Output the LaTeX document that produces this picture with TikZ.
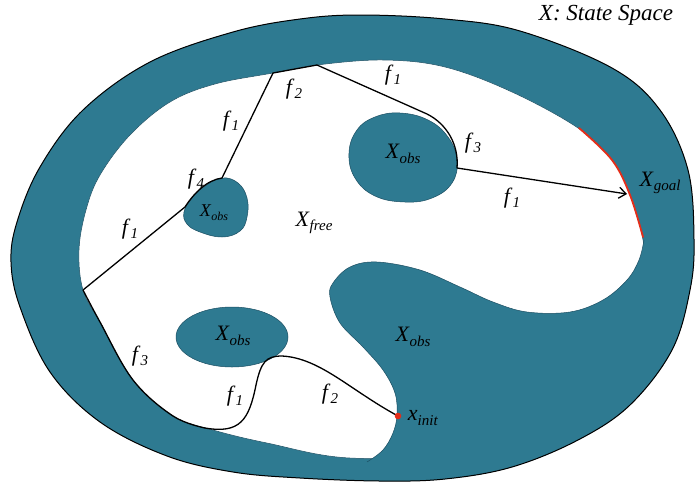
\documentclass[tikz,border=0pt]{standalone}
\usepackage{fontspec}
\setmainfont{Liberation Serif}
\usetikzlibrary{arrows.meta}
\definecolor{obs}{RGB}{46,122,145}
\definecolor{obsedge}{RGB}{28,78,98}
\definecolor{goalred}{RGB}{228,45,25}
\newcommand{\lbl}[3][15]{\textit{#2}\raisebox{-0.45ex}{\fontsize{#1}{#1}\selectfont\textit{#3}}}
\begin{document}
\begin{tikzpicture}[x=1pt,y=-1pt,
  lab/.style={font=\fontsize{22}{22}\selectfont, inner sep=0pt},
  pathline/.style={draw=black, line width=1.3pt, line join=round},
  obsfill/.style={fill=obs, draw=obsedge, line width=0.5pt}]
\useasboundingbox (0,0) rectangle (695,485);
\fill[white] (0,0) rectangle (695,485);
% outer ring
\path[fill=obs] plot[smooth cycle, tension=0.6] coordinates {
 (300,19) (360,15) (445,19) (520,31) (612,68) (660,110) (688,170) (694,240)
 (690,290) (672,350) (630,405) (578,440) (512,467) (445,479) (380,481)
 (300,478) (233,472) (167,456) (100,422) (50,372) (20,307) (11,262)
 (17,222) (40,167) (83,110) (150,62) (233,32)};
% free space
\path[fill=white, draw=obsedge, line width=0.5pt] plot[smooth cycle, tension=0.6] coordinates {
 (383,60) (445,67) (512,92) (578,128) (612,160) (630,195) (643,240)
 (646,285) (625,345) (560,415) (460,452) (350,458) (267,443) (213,430)
 (173,416) (133,380) (100,322) (83,290) (79,250) (86,210) (100,175)
 (130,135) (170,102) (215,84) (273,73) (317,65)};
% big obstacle merged with ring
\begin{scope}
\clip plot[smooth cycle, tension=0.6] coordinates {
 (300,19) (360,15) (445,19) (520,31) (612,68) (660,110) (688,170) (694,240)
 (690,290) (672,350) (630,405) (578,440) (512,467) (445,479) (380,481)
 (300,478) (233,472) (167,456) (100,422) (50,372) (20,307) (11,262)
 (17,222) (40,167) (83,110) (150,62) (233,32)};
\fill[obs] (700,220) -- plot[smooth, tension=0.6] coordinates {
 (646,220) (644,240) (639,260) (627,280) (603,300) (570,312) (527,312)
 (493,302) (460,287) (420,270) (377,262) (350,267) (333,283) (330,297)
 (340,323) (363,347) (383,370) (395,393) (397,415) (393,433) (383,450)
 (367,463) (360,475)} -- (360,495) -- (700,495) -- cycle;
\end{scope}
\draw[obsedge, line width=0.5pt] plot[smooth, tension=0.6] coordinates {
 (644,240) (639,260) (627,280) (603,300) (570,312) (527,312)
 (493,302) (460,287) (420,270) (377,262) (350,267) (333,283) (330,297)
 (340,323) (363,347) (383,370) (395,393) (397,415) (393,433) (383,450)
 (367,462)};
% outer border
\draw[black, line width=1pt] plot[smooth cycle, tension=0.6] coordinates {
 (300,19) (360,15) (445,19) (520,31) (612,68) (660,110) (688,170) (694,240)
 (690,290) (672,350) (630,405) (578,440) (512,467) (445,479) (380,481)
 (300,478) (233,472) (167,456) (100,422) (50,372) (20,307) (11,262)
 (17,222) (40,167) (83,110) (150,62) (233,32)};
% small obstacles
\path[obsfill] plot[smooth cycle, tension=0.7] coordinates {
 (349,153) (357,130) (375,117) (400,113) (428,120) (448,137) (457,160)
 (452,183) (432,198) (405,202) (375,196) (355,178)};
\path[obsfill] plot[smooth cycle, tension=0.7] coordinates {
 (184,212) (192,198) (205,186) (222,178) (238,183) (247,198) (247,217)
 (240,231) (222,237) (200,232) (187,224)};
\path[obsfill] (232,337) ellipse [x radius=56, y radius=30];
% goal region
\draw[goalred, line width=1.8pt, line cap=round] plot[smooth, tension=0.6] coordinates {
 (579,128) (612,160) (630,195) (643,237)};
% path coordinates
\coordinate (p0) at (83,290);
\coordinate (p1) at (185,207);
\coordinate (p2) at (222,178);
\coordinate (p3) at (273,73);
\coordinate (p4) at (317,65);
\coordinate (p5) at (427,114);
\coordinate (p6) at (457,168);
\coordinate (goal) at (627,194);
\coordinate (q2) at (256,385);
\coordinate (q3) at (282,356);
\coordinate (init) at (398,416);
% upper path
\draw[pathline, -{Straight Barb[length=7pt,width=11pt,line width=1.3pt]}]
 (p0) -- (p1) .. controls (194,193) and (207,180) .. (p2) -- (p3) -- (p4) -- (p5)
 .. controls (447,124) and (459,145) .. (p6) -- (goal);
% lower path
\draw[pathline] plot[smooth, tension=0.6] coordinates {(83,290) (100,322) (133,380) (173,416) (205,428)}
 .. controls (240,434) and (249,420) .. (q2)
 .. controls (261,362) and (266,356) .. (q3)
 .. controls (320,358) and (350,390) .. (init);
\fill[goalred] (init) circle [radius=3.3];
% labels
\node[lab, font=\fontsize{23}{23}\selectfont] (title) at (606,15) {\textit{X: State Space}};
\node[lab] (l1) at (231,121) {\lbl{f}{1}};
\node[lab] (l2) at (294,89) {\lbl{f}{2}};
\node[lab] (l3) at (393,75) {\lbl{f}{1}};
\node[lab] (l4) at (473,143) {\lbl{f}{3}};
\node[lab] (l5) at (512,198) {\lbl{f}{1}};
\node[lab] (l6) at (196,179) {\lbl{f}{4}};
\node[lab] (l7) at (130,229) {\lbl{f}{1}};
\node[lab] (l8) at (140,356) {\lbl{f}{3}};
\node[lab] (l9) at (235,396) {\lbl{f}{1}};
\node[lab] (l10) at (330,394) {\lbl{f}{2}};
\node[lab] (o1) at (403,154) {\lbl{X}{obs}};
\node[lab, font=\fontsize{18}{18}\selectfont] (o2) at (214,213) {\lbl[12]{X}{obs}};
\node[lab] (o3) at (233,336) {\lbl{X}{obs}};
\node[lab] (o4) at (413,337) {\lbl{X}{obs}};
\node[lab] (free) at (314,223) {\lbl{X}{free}};
\node[lab] (gl) at (660,183) {\lbl{X}{goal}};
\node[lab] (il) at (423,418) {\lbl{x}{init}};
\end{tikzpicture}
\end{document}
